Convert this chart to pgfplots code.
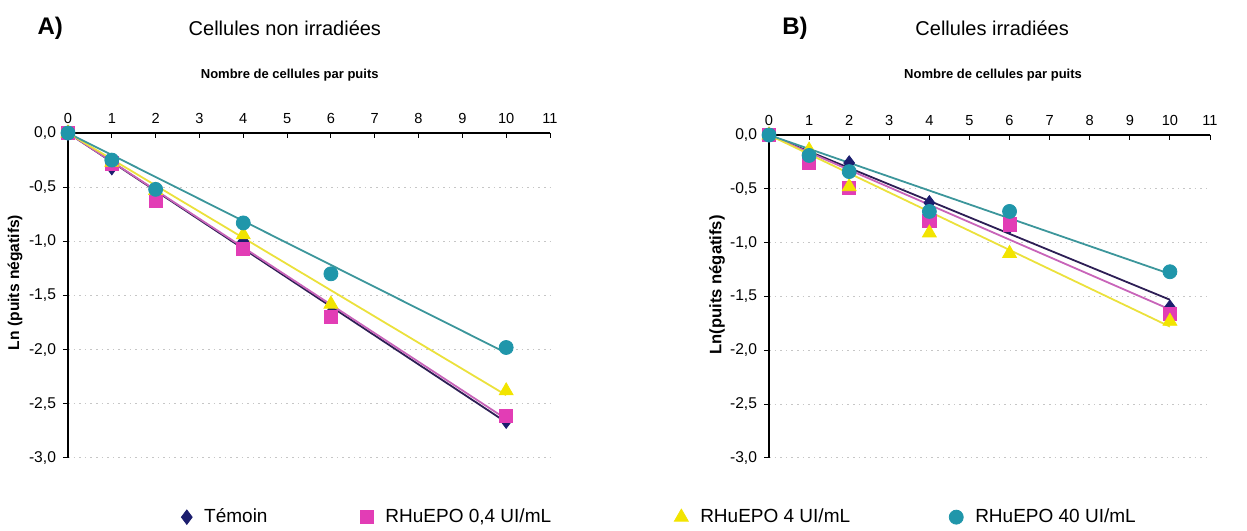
\documentclass[border=0pt]{standalone}
\usepackage{pgfplots}
\pgfplotsset{compat=1.18}
\usepackage{fontspec}
\setmainfont{Liberation Sans}
\definecolor{cnavy}{RGB}{28,30,110}
\definecolor{cpink}{RGB}{226,61,181}
\definecolor{cyell}{RGB}{242,228,0}
\definecolor{cteal}{RGB}{32,150,170}
\definecolor{lnavy}{RGB}{45,30,85}
\definecolor{lpink}{RGB}{200,100,185}
\definecolor{lyell}{RGB}{235,225,60}
\definecolor{lteal}{RGB}{60,150,155}
\pgfplotsset{panel/.style={
  scale only axis, clip=false,
  xmin=0, xmax=11, ymin=-3, ymax=0,
  axis x line*=top, axis y line*=left,
  axis line style={black, line width=0.6pt},
  xtick={0,1,...,11}, ytick={-3,-2.5,-2,-1.5,-1,-0.5,0},
  xtick align=inside, ytick align=outside,
  major tick length=2.5pt,
  tick style={black, line width=0.5pt},
  ymajorgrids, grid style={dash pattern=on 0.8pt off 2pt, gray!45, line width=0.5pt},
  xticklabel style={font=\fontsize{7.3}{8}\selectfont, yshift=1pt},
  yticklabel style={font=\fontsize{7.8}{9}\selectfont, /pgf/number format/.cd, fixed, fixed zerofill, precision=1, use comma},
  /pgf/number format/assume math mode=true,
  xlabel style={font=\bfseries\fontsize{6.5}{8}\selectfont, anchor=center},
  ylabel style={anchor=center},
}}
\begin{document}
\begin{tikzpicture}
\path[use as bounding box] (0,0) rectangle (623.5pt,265pt);
% Panel A
\begin{axis}[panel, at={(34pt,36pt)}, anchor=south west, width=241pt, height=162.5pt,
  xlabel={Nombre de cellules par puits}, xlabel style={at={(axis description cs:0.46,1.178)}},
  ylabel={Ln (puits négatifs)}, ylabel style={at={(axis description cs:-0.11,0.54)}, font=\bfseries\fontsize{7.8}{9}\selectfont},
  legend columns=4,
  legend style={draw=none, fill=none, at={(axis description cs:0.222,-0.182)}, anchor=west,
    font=\fontsize{9.5}{11}\selectfont, /tikz/every even column/.append style={column sep=0pt}},
]
\addplot[forget plot, lnavy, line width=0.9pt] coordinates {(0,0) (10,-2.67)};
\addplot[forget plot, lpink, line width=0.9pt] coordinates {(0,0) (10,-2.64)};
\addplot[forget plot, lyell, line width=0.9pt] coordinates {(0,0) (10,-2.42)};
\addplot[forget plot, lteal, line width=0.9pt] coordinates {(0,0) (10,-2.03)};
\addplot[only marks, mark=diamond*, mark size=3.6pt, draw=cnavy, fill=cnavy] coordinates {(0,0) (1,-0.32) (2,-0.56) (4,-1.00) (6,-1.66) (10,-2.66)};
\addplot[only marks, mark=square*, mark size=3.3pt, draw=cpink, fill=cpink] coordinates {(0,0) (1,-0.28) (2,-0.63) (4,-1.07) (6,-1.70) (10,-2.61)};
\addplot[only marks, mark=triangle*, mark size=4pt, draw=cyell, fill=cyell] coordinates {(0,0) (1,-0.27) (2,-0.53) (4,-0.94) (6,-1.58) (10,-2.38)};
\addplot[only marks, mark=*, mark size=3.5pt, draw=cteal, fill=cteal] coordinates {(0,0) (1,-0.25) (2,-0.52) (4,-0.83) (6,-1.30) (10,-1.98)};
\legend{\makebox[80pt][l]{\hspace{4pt}Témoin}, \makebox[146.5pt][l]{\hspace{4pt}RHuEPO 0,4 UI/mL}, \makebox[126.5pt][l]{\hspace{4pt}RHuEPO 4 UI/mL}, \hspace{4pt}RHuEPO 40 UI/mL}
\node[font=\bfseries\fontsize{12}{14}\selectfont] at (axis description cs:-0.037,1.323) {A)};
\node[font=\fontsize{10}{12}\selectfont] at (axis description cs:0.45,1.323) {Cellules non irradiées};
\end{axis}
% Panel B
\begin{axis}[panel, at={(384.5pt,36pt)}, anchor=south west, width=220.5pt, height=161.5pt,
  xlabel={Nombre de cellules par puits}, xlabel style={at={(axis description cs:0.508,1.186)}},
  ylabel={Ln(puits négatifs)}, ylabel style={at={(axis description cs:-0.118,0.536)}, font=\bfseries\fontsize{8.3}{9}\selectfont},
]
\addplot[lnavy, line width=0.9pt] coordinates {(0,0) (10,-1.53)};
\addplot[lpink, line width=0.9pt] coordinates {(0,0) (10,-1.62)};
\addplot[lyell, line width=0.9pt] coordinates {(0,0) (10,-1.78)};
\addplot[lteal, line width=0.9pt] coordinates {(0,0) (10,-1.29)};
\addplot[only marks, mark=diamond*, mark size=3.6pt, draw=cnavy, fill=cnavy] coordinates {(0,0) (1,-0.20) (2,-0.26) (4,-0.63) (6,-0.85) (10,-1.60)};
\addplot[only marks, mark=square*, mark size=3.3pt, draw=cpink, fill=cpink] coordinates {(0,0) (1,-0.26) (2,-0.49) (4,-0.80) (6,-0.83) (10,-1.66)};
\addplot[only marks, mark=triangle*, mark size=4pt, draw=cyell, fill=cyell] coordinates {(0,0) (1,-0.14) (2,-0.48) (4,-0.91) (6,-1.10) (10,-1.73)};
\addplot[only marks, mark=*, mark size=3.5pt, draw=cteal, fill=cteal] coordinates {(0,0) (1,-0.19) (2,-0.34) (4,-0.71) (6,-0.71) (10,-1.27)};
\node[font=\bfseries\fontsize{12}{14}\selectfont] at (axis description cs:0.059,1.331) {B)};
\node[font=\fontsize{10}{12}\selectfont] at (axis description cs:0.506,1.331) {Cellules irradiées};
\end{axis}
\end{tikzpicture}
\end{document}
